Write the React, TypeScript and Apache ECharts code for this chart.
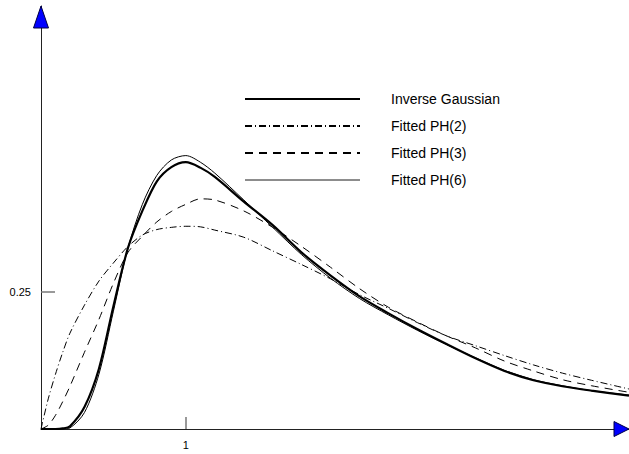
import React, { useEffect, useRef } from "react";
import * as echarts from "echarts";

const xs = [0, 0.05, 0.1, 0.15, 0.2, 0.3, 0.4, 0.5, 0.6, 0.7, 0.8, 0.9, 1.0, 1.1, 1.2, 1.4, 1.6, 1.8, 2.0, 2.2, 2.4, 2.6, 2.8, 3.0, 3.2, 3.4, 3.6, 3.8, 4.06];
const inverseGaussian = [0, 0, 0, 0.001, 0.005, 0.04, 0.11, 0.224, 0.33, 0.398, 0.452, 0.478, 0.487, 0.477, 0.46, 0.415, 0.372, 0.322, 0.28, 0.242, 0.211, 0.182, 0.155, 0.129, 0.106, 0.089, 0.078, 0.07, 0.061];
const ph2 = [0, 0.055, 0.1, 0.14, 0.175, 0.226, 0.27, 0.303, 0.333, 0.354, 0.364, 0.368, 0.37, 0.369, 0.363, 0.35, 0.325, 0.3, 0.274, 0.245, 0.22, 0.194, 0.17, 0.152, 0.134, 0.117, 0.102, 0.089, 0.073];
const ph3 = [0, 0.007, 0.025, 0.05, 0.078, 0.14, 0.2, 0.266, 0.322, 0.352, 0.378, 0.397, 0.41, 0.42, 0.418, 0.398, 0.368, 0.333, 0.295, 0.256, 0.222, 0.195, 0.17, 0.148, 0.124, 0.106, 0.09, 0.079, 0.067];
const ph6 = [0, 0, 0, 0, 0.002, 0.03, 0.1, 0.215, 0.33, 0.41, 0.463, 0.491, 0.499, 0.487, 0.467, 0.418, 0.368, 0.318, 0.275, 0.238, 0.208, 0.18, 0.154, 0.13, 0.107, 0.09, 0.079, 0.07, 0.062];

const seriesNames = ["Inverse Gaussian", "Fitted PH(2)", "Fitted PH(3)", "Fitted PH(6)"];
const xTickValues = [1];
const yTickValues = [0.25];
const X_MAX = 4.06;
const Y_MAX = 0.772;

const FONT = "'Liberation Sans', Arial, Helvetica, sans-serif";

function pairs(vals: number[]) {
  return xs.map((x, i) => [x, vals[i]]);
}

export default function App() {
  const ref = useRef<HTMLDivElement>(null);
  useEffect(() => {
    document.body.style.margin = "0";
    const chart = echarts.init(ref.current!, undefined, { renderer: "svg" });
    const lineSeries = (name: string, vals: number[], width: number, type: any, z: number) => ({
      name,
      type: "line",
      data: pairs(vals),
      smooth: 0.3,
      showSymbol: false,
      symbol: "none",
      z,
      lineStyle: { color: "#000", width, type },
      itemStyle: { color: "#000" },
    });
    chart.setOption({
      animation: false,
      grid: { left: 41, right: 0, top: 6, bottom: 25 },
      xAxis: {
        type: "value",
        min: 0,
        max: X_MAX,
        axisLine: { show: true, onZero: false, lineStyle: { color: "#222", width: 1 } },
        axisTick: { show: true, inside: true, length: 12, customValues: xTickValues, lineStyle: { color: "#777", width: 1.5 } },
        axisLabel: { show: true, customValues: xTickValues, color: "#000", fontSize: 11, fontFamily: FONT, margin: 10 },
        splitLine: { show: false },
      },
      yAxis: {
        type: "value",
        min: 0,
        max: Y_MAX,
        axisLine: { show: true, onZero: false, lineStyle: { color: "#222", width: 1 } },
        axisTick: { show: true, inside: true, length: 14, customValues: yTickValues, lineStyle: { color: "#777", width: 1.5 } },
        axisLabel: { show: true, customValues: yTickValues, color: "#000", fontSize: 11, fontFamily: FONT, margin: 10 },
        splitLine: { show: false },
      },
      legend: {
        orient: "vertical",
        left: 244,
        top: 92,
        padding: 0,
        itemWidth: 115,
        itemHeight: 14,
        itemGap: 13,
        selectedMode: false,
        data: seriesNames.map((name, i) => (i === 3 ? { name, lineStyle: { width: 0.9 } } : { name })),
        itemStyle: { opacity: 0 },
        textStyle: { color: "#000", fontSize: 14, fontFamily: FONT, padding: [0, 0, 0, 26] },
      },
      series: [
        lineSeries(seriesNames[0], inverseGaussian, 2.2, "solid", 4),
        lineSeries(seriesNames[1], ph2, 1, [7, 3, 1, 3], 2),
        lineSeries(seriesNames[2], ph3, 1, [8, 6], 2),
        lineSeries(seriesNames[3], ph6, 1, "solid", 3),
      ],
    });
    const top = chart.convertToPixel({ gridIndex: 0 }, [0, Y_MAX]) as number[];
    const right = chart.convertToPixel({ gridIndex: 0 }, [X_MAX, 0]) as number[];
    chart.setOption({
      graphic: [
        {
          type: "polygon",
          shape: { points: [[top[0] - 7.5, top[1] + 22], [top[0], top[1]], [top[0] + 7.5, top[1] + 22]] },
          style: { fill: "#0000ff", stroke: "#000044", lineWidth: 1 },
          z: 10,
        },
        {
          type: "polygon",
          shape: { points: [[right[0] - 15, right[1] - 7.5], [right[0], right[1]], [right[0] - 15, right[1] + 7.5]] },
          style: { fill: "#0000ff", stroke: "#000044", lineWidth: 1 },
          z: 10,
        },
      ],
    });
    return () => chart.dispose();
  }, []);
  return <div ref={ref} style={{ width: 629, height: 454 }} />;
}
